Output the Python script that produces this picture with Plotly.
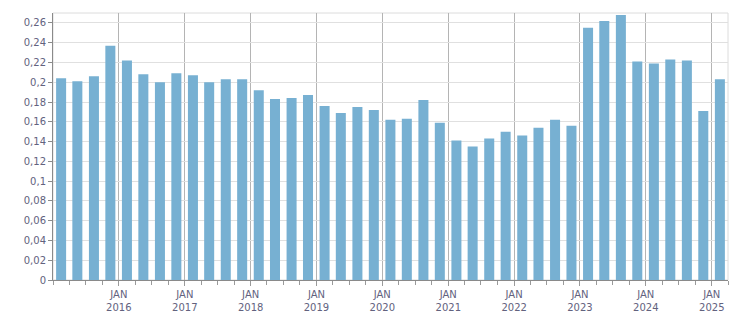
import plotly.graph_objects as go

quarters = [
    "2015-02-15", "2015-05-16", "2015-08-16", "2015-11-15",
    "2016-02-15", "2016-05-16", "2016-08-16", "2016-11-15",
    "2017-02-15", "2017-05-16", "2017-08-16", "2017-11-15",
    "2018-02-15", "2018-05-16", "2018-08-16", "2018-11-15",
    "2019-02-15", "2019-05-16", "2019-08-16", "2019-11-15",
    "2020-02-15", "2020-05-16", "2020-08-16", "2020-11-15",
    "2021-02-15", "2021-05-16", "2021-08-16", "2021-11-15",
    "2022-02-15", "2022-05-16", "2022-08-16", "2022-11-15",
    "2023-02-15", "2023-05-16", "2023-08-16", "2023-11-15",
    "2024-02-15", "2024-05-16", "2024-08-16", "2024-11-15",
    "2025-02-15",
]
values = [
    0.204, 0.201, 0.206, 0.237,
    0.222, 0.208, 0.200, 0.209,
    0.207, 0.200, 0.203, 0.203,
    0.192, 0.183, 0.184, 0.187,
    0.176, 0.169, 0.175, 0.172,
    0.162, 0.163, 0.182, 0.159,
    0.141, 0.135, 0.143, 0.150,
    0.146, 0.154, 0.162, 0.156,
    0.255, 0.262, 0.268, 0.221,
    0.219, 0.223, 0.222, 0.171,
    0.203,
]
year_ticks = [f"{y}-01-01" for y in range(2016, 2026)]
year_labels = [f"JAN<br>{y}" for y in range(2016, 2026)]
y_ticks = [round(0.02 * i, 2) for i in range(14)]

text_color = "#62627e"
font = dict(family="DejaVu Sans", size=10, color=text_color)

fig = go.Figure()
fig.add_trace(go.Bar(
    x=quarters, y=values,
    marker=dict(color="#77b0d2", line=dict(width=0)),
    width=4.8e9,
    hoverinfo="x+y",
))

fig.update_layout(
    width=751, height=313,
    margin=dict(l=53, r=23, t=13, b=33),
    paper_bgcolor="white", plot_bgcolor="white",
    separators=", ",
    showlegend=False,
    font=font,
    shapes=[dict(type="rect", xref="paper", yref="paper", x0=0, x1=1, y0=0, y1=1,
                 line=dict(color="#dcdcdc", width=1), layer="below")],
)
fig.update_xaxes(
    type="date",
    range=["2015-01-01", "2025-04-01"],
    tickmode="array", tickvals=year_ticks, ticktext=year_labels,
    showgrid=True, gridcolor="#b4b4b4", gridwidth=1,
    ticks="outside", ticklen=5, tickcolor="#9a9a9a",
    showline=True, linecolor="#8a8a8a", linewidth=1,
    tickfont=font,
    automargin=False,
    minor=dict(ticks="outside", ticklen=4, tickcolor="#9a9a9a", dtick="M3",
               tick0="2015-01-01", showgrid=False),
    zeroline=False,
)
fig.update_yaxes(
    range=[0, 0.27],
    tickmode="array", tickvals=y_ticks,
    ticktext=[("0" if v == 0 else f"{v:g}".replace(".", ",")) for v in y_ticks],
    showgrid=True, gridcolor="#e0e0e0", gridwidth=1,
    ticks="outside", ticklen=4, tickcolor="#8a8a8a",
    showline=True, linecolor="#8a8a8a", linewidth=1,
    tickfont=font,
    automargin=False,
    zeroline=False,
)

fig.write_html("out.html")
